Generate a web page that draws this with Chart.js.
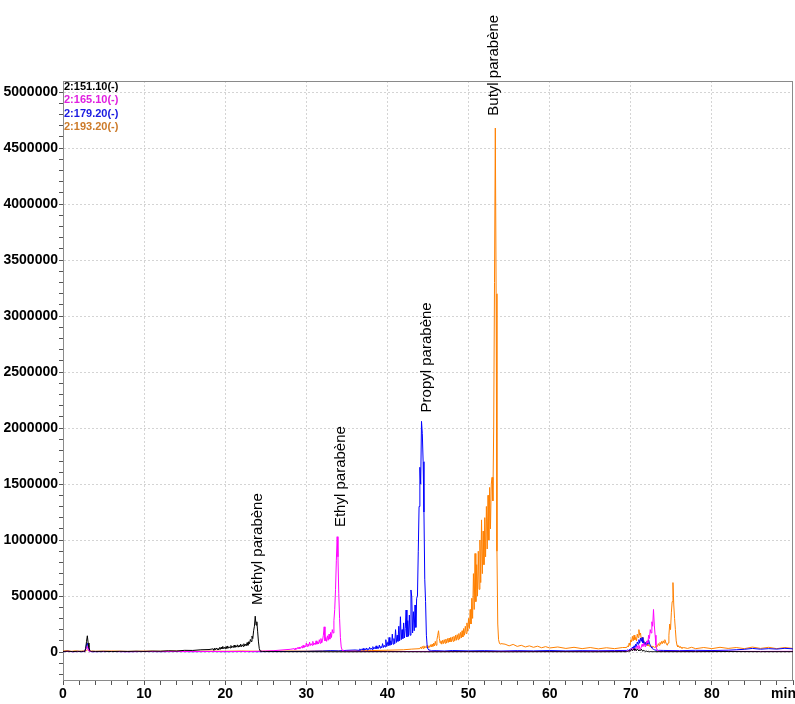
<!DOCTYPE html>
<html>
<head>
<meta charset="utf-8">
<script src="https://cdn.jsdelivr.net/npm/chart.js@4.4.0/dist/chart.umd.min.js"></script>
<style>
  html, body { margin: 0; padding: 0; background: #fff; }
  #wrap { width: 795px; height: 704px; }
</style>
</head>
<body>
<div id="wrap"><canvas id="myChart" width="795" height="704"></canvas></div>
<script>
// Trace names (legend, top left)
const traceNames = ['2:151.10(-)', '2:165.10(-)', '2:179.20(-)', '2:193.20(-)'];

// Peak annotations: label, retention time (min), height where the text starts
const peakLabels = ['Méthyl parabène', 'Ethyl parabène', 'Propyl parabène', 'Butyl parabène'];
const peakTimes = [24.0, 34.2, 44.8, 53.15];
const peakTextBase = [420000, 1116000, 2140000, 4790000];

// Axis labels
const xLabelValues = [0, 10, 20, 30, 40, 50, 60, 70, 80];
const yLabelValues = [0, 500000, 1000000, 1500000, 2000000, 2500000, 3000000, 3500000, 4000000, 4500000, 5000000];

// Detector sampling interval inside the dense (burst) segments, min
const SAMPLE = 0.1;

// --- 2:151.10 (black) : sparse baseline [time, intensity] + dense bursts [start, values]
const black151 = [
    [0, 5000], [0.6, 7000], [1.2, 4000], [1.8, 6000], [2.3, 5000], [4, 5000], [5, 6000], [6, 4000], [7, 6000], [8, 5000],
    [9, 7000], [10, 5000], [11, 8000], [12, 7000], [13, 11000], [14, 9000], [15, 15000], [16, 14000], [17, 20000], [18, 22000],
    [25, 4000], [27, 3000], [30, 3000], [35, 2000], [40, 3000], [45, 2000], [50, 3000], [55, 2000], [60, 3000], [65, 2000],
    [69, 3000], [74, 3000], [78, 3000], [82, 4000], [86, 3000], [90, 3000]
];
const black151Bursts = [
    [2.5, [6000, 5000, 9000, 30000, 95000, 145000, 80000, 40000, 15000, 7000, 5000, 6000]],
    [18.5, [28000, 16000, 34000, 20000, 36000, 22000, 32000, 18000, 40000, 24000,
            44000, 28000, 50000, 30000, 42000, 28000, 48000, 32000, 54000, 34000,
            46000, 36000, 58000, 38000, 50000, 40000, 62000, 42000, 55000, 44000,
            64000, 43000, 58000, 48000, 70000, 48000, 65000, 50000, 74000, 53000,
            70000, 56000, 84000, 60000, 92000, 74000, 112000, 94000, 142000, 120000,
            190000, 230000, 320000, 240000, 270000, 180000, 90000, 30000, 10000, 6000,
            5000, 4000]],
    [69.5, [3000, 5000, 8000, 12000, 6000, 15000, 25000, 10000, 20000, 30000,
            15000, 22000, 12000, 28000, 18000, 10000, 20000, 14000, 25000, 12000,
            8000, 15000, 10000, 6000, 9000, 5000, 4000, 6000, 3000, 4000,
            3000, 5000, 3000, 4000, 3000, 3000]]
];

// --- 2:165.10 (magenta)
const magenta165 = [
    [0, 4000], [0.6, 6000], [1.2, 3000], [1.8, 5000], [2.4, 4000], [4, 4000], [6, 5000], [8, 3000], [10, 5000], [12, 4000],
    [14, 5000], [16, 4000], [18, 5000], [20, 4000], [22, 5000], [23, 4000], [24, 6000], [25, 9000], [26, 12000], [27, 18000],
    [28, 24000], [35.5, 7000], [37, 5000], [40, 4000], [45, 5000], [50, 4000], [55, 5000], [60, 4000], [65, 5000], [69, 6000],
    [75, 6000], [78, 5000], [82, 6000], [86, 5000], [90, 6000]
];
const magenta165Bursts = [
    [2.6, [5000, 8000, 20000, 40000, 50000, 25000, 10000, 6000, 5000, 4000]],
    [28.5, [30000, 20000, 36000, 24000, 40000, 28000, 45000, 30000, 38000, 50000,
            34000, 60000, 40000, 55000, 45000, 80000, 50000, 72000, 52000, 88000,
            58000, 75000, 60000, 95000, 62000, 80000, 66000, 100000, 70000, 90000,
            72000, 110000, 78000, 120000, 82000, 105000, 150000, 225000, 100000, 130000,
            95000, 145000, 105000, 160000, 115000, 175000, 130000, 200000, 170000, 280000,
            380000, 560000, 820000, 1030000, 850000, 520000, 300000, 130000, 45000, 20000,
            12000, 9000, 8000, 7000, 7000]],
    [69.5, [6000, 10000, 8000, 15000, 12000, 25000, 18000, 35000, 20000, 30000,
            15000, 25000, 40000, 55000, 30000, 60000, 35000, 25000, 45000, 70000,
            50000, 80000, 60000, 45000, 70000, 100000, 80000, 150000, 120000, 200000,
            170000, 270000, 230000, 380000, 240000, 150000, 60000, 25000, 12000, 8000,
            7000, 6000, 7000, 5000, 6000, 5000]]
];

// --- 2:179.20 (blue)
const blue179 = [
    [0, 3000], [0.6, 5000], [1.2, 3000], [1.8, 4000], [2.4, 3000], [4, 3000], [6, 4000], [8, 3000], [10, 4000], [12, 3000],
    [14, 4000], [16, 3000], [18, 4000], [20, 3000], [22, 4000], [24, 3000], [26, 4000], [28, 5000], [30, 6000], [31, 8000],
    [32, 9000], [33, 12000], [34, 10000], [35, 15000], [36, 18000], [46, 12000], [47, 9000], [48, 13000], [50, 10000], [52, 12000],
    [54, 9000], [56, 12000], [58, 10000], [60, 13000], [62, 10000], [64, 12000], [66, 11000], [68, 13000], [74, 14000], [76, 12000],
    [78, 15000], [80, 13000], [82, 16000], [83, 20000], [84, 24000], [85, 32000], [86, 25000], [87, 30000], [88, 26000], [89, 33000],
    [90, 28000]
];
const blue179Bursts = [
    [2.6, [4000, 10000, 35000, 70000, 80000, 40000, 12000, 6000, 4000, 3000]],
    [36.5, [15000, 28000, 14000, 25000, 18000, 32000, 16000, 28000, 20000, 36000,
            18000, 30000, 22000, 42000, 24000, 35000, 22000, 48000, 26000, 40000,
            28000, 55000, 30000, 45000, 32000, 62000, 35000, 50000, 38000, 75000,
            40000, 60000, 45000, 110000, 50000, 85000, 55000, 130000, 60000, 100000,
            65000, 160000, 70000, 120000, 75000, 200000, 85000, 150000, 95000, 230000,
            100000, 315000, 110000, 200000, 120000, 260000, 125000, 210000, 375000, 135000,
            280000, 140000, 330000, 150000, 554000, 491000, 170000, 360000, 190000, 420000,
            220000, 480000, 500000, 900000, 1300000, 1650000, 1500000, 2060000, 1950000, 1700000,
            1250000, 650000, 450000, 150000, 50000, 25000, 18000, 12000, 15000, 11000]],
    [69.5, [14000, 18000, 12000, 22000, 16000, 30000, 20000, 45000, 30000, 55000,
            40000, 70000, 50000, 90000, 70000, 110000, 80000, 125000, 95000, 130000,
            80000, 100000, 65000, 85000, 60000, 95000, 70000, 110000, 80000, 60000,
            45000, 35000, 28000, 24000, 20000, 18000, 16000, 15000, 17000, 14000,
            15000]]
];

// --- 2:193.20 (orange)
const orange193 = [
    [0, 8000], [0.5, 12000], [1, 6000], [1.5, 10000], [2, 7000], [2.5, 9000], [2.9, 12000], [3.0, 20000], [3.2, 9000], [4, 7000],
    [6, 9000], [8, 6000], [10, 8000], [12, 7000], [14, 9000], [16, 6000], [18, 8000], [20, 7000], [22, 9000], [24, 7000],
    [26, 8000], [28, 9000], [30, 8000], [32, 10000], [34, 9000], [36, 11000], [38, 13000], [40, 16000], [42, 20000], [43, 26000],
    [54.5, 70000], [55, 55000], [55.5, 68000], [56, 50000], [56.5, 60000], [57, 45000], [57.5, 55000], [58, 42000], [58.5, 52000], [59, 38000],
    [59.5, 48000], [60, 36000], [61, 45000], [62, 32000], [63, 42000], [64, 30000], [65, 40000], [66, 28000], [67, 38000], [68, 30000],
    [69, 40000], [77, 32000], [77.5, 42000], [78, 30000], [79, 40000], [80, 30000], [81, 42000], [82, 32000], [83, 40000], [84, 30000],
    [85, 44000], [86, 32000], [87, 42000], [88, 30000], [89, 40000], [90, 32000]
];
const orange193Bursts = [
    [44.0, [30000, 45000, 28000, 50000, 32000, 55000, 35000, 48000, 38000, 60000,
            40000, 55000, 42000, 65000, 45000, 70000, 50000, 80000, 55000, 95000,
            60000, 110000, 150000, 190000, 120000, 80000, 100000, 70000, 105000, 75000,
            110000, 78000, 115000, 80000, 120000, 85000, 125000, 90000, 130000, 92000,
            135000, 95000, 140000, 100000, 150000, 105000, 155000, 110000, 165000, 118000,
            175000, 125000, 190000, 135000, 210000, 150000, 230000, 165000, 260000, 185000,
            300000, 210000, 380000, 250000, 480000, 300000, 700000, 380000, 880000, 450000,
            780000, 500000, 900000, 560000, 1000000, 620000, 1180000, 700000, 1080000, 780000,
            1200000, 850000, 1300000, 920000, 1400000, 1000000, 1470000, 1100000, 1500000, 1560000,
            1350000, 2000000, 3300000, 4680000, 3200000, 900000, 250000, 110000, 80000, 70000,
            75000]],
    [69.5, [40000, 55000, 45000, 80000, 60000, 110000, 90000, 140000, 100000, 150000,
            110000, 130000, 100000, 160000, 130000, 200000, 150000, 170000, 110000, 130000,
            90000, 100000, 70000, 85000, 60000, 75000, 55000, 65000, 50000, 60000,
            45000, 55000, 42000, 50000, 40000, 48000, 42000, 60000, 50000, 75000,
            60000, 85000, 70000, 95000, 75000, 100000, 80000, 110000, 90000, 70000,
            60000, 80000, 150000, 250000, 200000, 350000, 450000, 620000, 420000, 300000,
            200000, 100000, 60000, 45000, 55000, 40000, 50000, 35000, 45000, 32000,
            40000]]
];

const lineColors = ['#000000', '#ff00ff', '#0000ff', '#ff8000'];
const legendColors = ['#000000', '#e020e0', '#1a1ae0', '#cc7a29'];

// Merge sparse baseline points with dense burst segments, sorted by time
function buildTrace(sparse, bursts) {
    const pts = sparse.map(p => ({ x: p[0], y: p[1] }));
    bursts.forEach(([t0, vals]) => {
        vals.forEach((v, i) => pts.push({ x: +(t0 + i * SAMPLE).toFixed(2), y: v }));
    });
    pts.sort((a, b) => a.x - b.x);
    return pts;
}

const traceData = [
    buildTrace(black151, black151Bursts),
    buildTrace(magenta165, magenta165Bursts),
    buildTrace(blue179, blue179Bursts),
    buildTrace(orange193, orange193Bursts)
];

// Minor tick marks every 100000 on y
const yTickValues = [];
for (let v = -200000; v <= 5000000; v += 100000) yTickValues.push(v);

const FONT = "'Liberation Sans', Arial, sans-serif";
Chart.defaults.font.family = FONT;
Chart.defaults.color = '#000';

// Frame, legend, peak names and the "min" unit label
const decorations = {
    id: 'decorations',
    beforeDatasetsDraw(chart) {
        const { ctx, chartArea: a } = chart;
        ctx.save();
        ctx.strokeStyle = '#8a8a8a';
        ctx.lineWidth = 1;
        ctx.strokeRect(a.left + 0.5, a.top + 0.5, a.right - a.left - 1, a.bottom - a.top);
        ctx.restore();
    },
    afterDraw(chart) {
        const { ctx, chartArea: a, scales } = chart;
        ctx.save();
        ctx.font = 'bold 11px ' + FONT;
        ctx.textAlign = 'left';
        ctx.textBaseline = 'middle';
        traceNames.forEach((name, i) => {
            ctx.fillStyle = legendColors[i];
            ctx.fillText(name, a.left + 1, a.top + 6 + i * 13.3);
        });

        ctx.fillStyle = '#000';
        ctx.font = '15px ' + FONT;
        peakLabels.forEach((label, i) => {
            const x = scales.x.getPixelForValue(peakTimes[i]);
            const y = scales.y.getPixelForValue(peakTextBase[i]);
            ctx.save();
            ctx.translate(x, y);
            ctx.rotate(-Math.PI / 2);
            ctx.fillText(label, 0, 0);
            ctx.restore();
        });

        ctx.font = 'bold 14px ' + FONT;
        ctx.textAlign = 'right';
        ctx.fillText('min', chart.width + 1, a.bottom + 14);
        ctx.restore();
    }
};

const gridGrey = '#d4d4d4';
const clear = 'rgba(0,0,0,0)';

const ctx = document.getElementById('myChart').getContext('2d');
const myChart = new Chart(ctx, {
    type: 'line',
    data: {
        datasets: traceData.map((pts, i) => {
            return {
                label: traceNames[i],
                data: pts,
                borderColor: lineColors[i],
                borderWidth: 1,
                pointRadius: 0,
                tension: 0,
                fill: false
            };
        })
    },
    options: {
        responsive: false,
        animation: false,
        devicePixelRatio: 1,
        layout: { padding: { top: 81, right: 2, left: 0, bottom: 0 } },
        plugins: {
            legend: { display: false },
            tooltip: { enabled: false }
        },
        scales: {
            x: {
                type: 'linear',
                min: 0,
                max: 90,
                afterFit: s => { s.height = 24; },
                ticks: {
                    stepSize: 2,
                    autoSkip: false,
                    maxRotation: 0,
                    padding: 1,
                    font: { size: 14, weight: 'bold' },
                    callback: v => xLabelValues.includes(v) ? String(v) : ''
                },
                grid: {
                    color: c => (c.tick && xLabelValues.includes(c.tick.value) && c.tick.value > 0) ? gridGrey : clear,
                    tickColor: '#555',
                    tickLength: 5
                },
                border: { color: '#666', dash: [2, 2] }
            },
            y: {
                min: -250000,
                max: 5100000,
                afterFit: s => { s.width = 63; },
                afterBuildTicks: s => { s.ticks = yTickValues.map(v => ({ value: v })); },
                ticks: {
                    autoSkip: false,
                    padding: 1,
                    font: { size: 14, weight: 'bold' },
                    callback: v => yLabelValues.includes(v) ? String(v) : ''
                },
                grid: {
                    color: c => (c.tick && yLabelValues.includes(c.tick.value)) ? gridGrey : clear,
                    tickColor: '#555',
                    tickLength: 4
                },
                border: { color: '#666', dash: [2, 2] }
            }
        }
    },
    plugins: [decorations]
});
</script>
</body>
</html>
